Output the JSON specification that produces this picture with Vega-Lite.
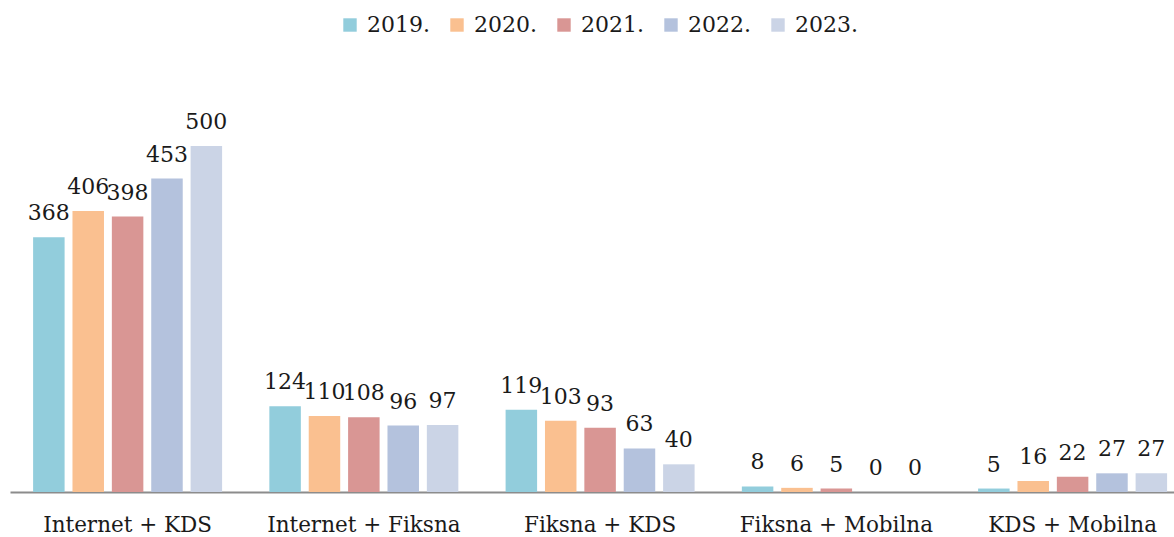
{
  "$schema": "https://vega.github.io/schema/vega-lite/v6.json",
  "width": 1164,
  "height": 346,
  "autosize": {"type": "none"},
  "padding": {"left": 10, "top": 146, "right": 0, "bottom": 45},
  "background": "white",
  "config": {
    "view": {"stroke": null},
    "font": "DejaVu Serif"
  },
  "data": {
    "values": [
      {"cat": "Internet + KDS", "year": "2019.", "v": 368},
      {"cat": "Internet + KDS", "year": "2020.", "v": 406},
      {"cat": "Internet + KDS", "year": "2021.", "v": 398},
      {"cat": "Internet + KDS", "year": "2022.", "v": 453},
      {"cat": "Internet + KDS", "year": "2023.", "v": 500},
      {"cat": "Internet + Fiksna", "year": "2019.", "v": 124},
      {"cat": "Internet + Fiksna", "year": "2020.", "v": 110},
      {"cat": "Internet + Fiksna", "year": "2021.", "v": 108},
      {"cat": "Internet + Fiksna", "year": "2022.", "v": 96},
      {"cat": "Internet + Fiksna", "year": "2023.", "v": 97},
      {"cat": "Fiksna + KDS", "year": "2019.", "v": 119},
      {"cat": "Fiksna + KDS", "year": "2020.", "v": 103},
      {"cat": "Fiksna + KDS", "year": "2021.", "v": 93},
      {"cat": "Fiksna + KDS", "year": "2022.", "v": 63},
      {"cat": "Fiksna + KDS", "year": "2023.", "v": 40},
      {"cat": "Fiksna + Mobilna", "year": "2019.", "v": 8},
      {"cat": "Fiksna + Mobilna", "year": "2020.", "v": 6},
      {"cat": "Fiksna + Mobilna", "year": "2021.", "v": 5},
      {"cat": "Fiksna + Mobilna", "year": "2022.", "v": 0},
      {"cat": "Fiksna + Mobilna", "year": "2023.", "v": 0},
      {"cat": "KDS + Mobilna", "year": "2019.", "v": 5},
      {"cat": "KDS + Mobilna", "year": "2020.", "v": 16},
      {"cat": "KDS + Mobilna", "year": "2021.", "v": 22},
      {"cat": "KDS + Mobilna", "year": "2022.", "v": 27},
      {"cat": "KDS + Mobilna", "year": "2023.", "v": 27}
    ]
  },
  "encoding": {
    "x": {
      "field": "cat",
      "type": "nominal",
      "sort": null,
      "scale": {"paddingInner": 0.2, "paddingOuter": 0.0635, "align": 0.77},
      "axis": {
        "title": null,
        "labelAngle": 0,
        "labelFontSize": 21.5,
        "labelFont": "DejaVu Serif",
        "labelColor": "#1a1a1a",
        "labelPadding": 22,
        "labelLimit": 0,
        "ticks": false,
        "domainColor": "#8c8c8c",
        "domainWidth": 2,
        "grid": false
      }
    },
    "xOffset": {
      "field": "year",
      "type": "nominal",
      "sort": null,
      "scale": {"paddingInner": 0.2, "paddingOuter": 0}
    },
    "y": {
      "field": "v",
      "type": "quantitative",
      "scale": {"domain": [0, 500], "nice": false},
      "axis": null
    }
  },
  "layer": [
    {
      "mark": {"type": "bar"},
      "encoding": {
        "color": {
          "field": "year",
          "type": "nominal",
          "sort": null,
          "scale": {
            "domain": ["2019.", "2020.", "2021.", "2022.", "2023."],
            "range": ["#92CDDC", "#FAC090", "#D99694", "#B4C2DD", "#CBD4E6"]
          },
          "legend": {
            "title": null,
            "orient": "none",
            "direction": "horizontal",
            "legendX": 329,
            "legendY": -132,
            "symbolType": "square",
            "symbolSize": 180,
            "symbolStrokeWidth": 0,
            "labelFont": "DejaVu Serif",
            "labelFontSize": 22,
            "labelColor": "#1a1a1a",
            "labelOffset": 6,
            "columnPadding": 16
          }
        }
      }
    },
    {
      "mark": {"type": "text", "baseline": "alphabetic", "dy": -17, "fontSize": 22, "font": "DejaVu Serif", "color": "#1a1a1a"},
      "encoding": {
        "text": {"field": "v", "type": "quantitative"}
      }
    }
  ]
}
